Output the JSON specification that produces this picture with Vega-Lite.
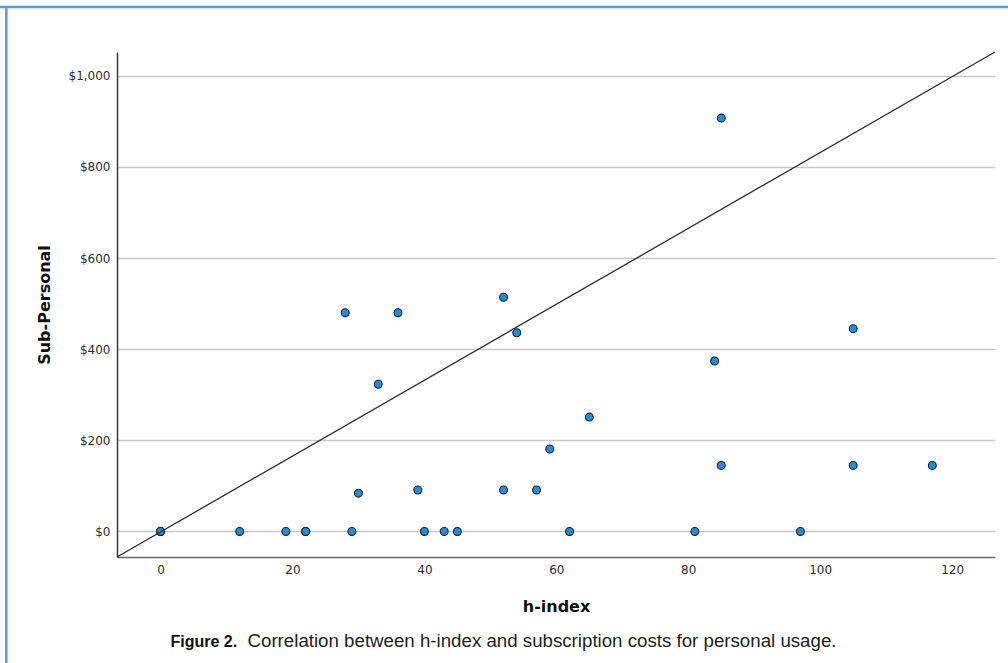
{
  "$schema": "https://vega.github.io/schema/vega-lite/v6.json",
  "width": 878,
  "height": 505,
  "autosize": "none",
  "padding": {"left": 117, "top": 52, "right": 13, "bottom": 106},
  "background": "#ffffff",
  "config": {"view": {"stroke": null}},
  "datasets": {
    "points": [
      {"h": 0, "cost": 0}, {"h": 0, "cost": 0}, {"h": 0, "cost": 0},
      {"h": 12, "cost": 0}, {"h": 19, "cost": 0}, {"h": 22, "cost": 0}, {"h": 22, "cost": 0},
      {"h": 29, "cost": 0}, {"h": 40, "cost": 0}, {"h": 43, "cost": 0}, {"h": 45, "cost": 0},
      {"h": 62, "cost": 0}, {"h": 81, "cost": 0}, {"h": 97, "cost": 0},
      {"h": 28, "cost": 480}, {"h": 36, "cost": 480}, {"h": 33, "cost": 323},
      {"h": 30, "cost": 84}, {"h": 39, "cost": 91}, {"h": 52, "cost": 514},
      {"h": 54, "cost": 436}, {"h": 52, "cost": 91}, {"h": 57, "cost": 91},
      {"h": 59, "cost": 181}, {"h": 65, "cost": 251}, {"h": 84, "cost": 374},
      {"h": 85, "cost": 907}, {"h": 85, "cost": 145}, {"h": 105, "cost": 445},
      {"h": 105, "cost": 145}, {"h": 117, "cost": 145}
    ],
    "fit": [{"h": -6.6, "cost": -56}, {"h": 126.5, "cost": 1052}]
  },
  "resolve": {"axis": {"x": "independent"}},
  "layer": [
    {
      "data": {"name": "points"},
      "mark": {"type": "circle", "fill": "#1a8fe3", "stroke": "#1e1e1e", "strokeWidth": 1.1, "size": 62, "opacity": 1},
      "encoding": {
        "x": {
          "field": "h", "type": "quantitative",
          "scale": {"domain": [-6.6, 126.5], "nice": false, "zero": false},
          "axis": {
            "values": [0, 20, 40, 60, 80, 100, 120], "title": "h-index", "grid": false,
            "ticks": false, "tickSize": 0, "domainColor": "#666666", "domainWidth": 1.5,
            "labelFont": "DejaVu Sans", "labelFontSize": 12, "labelColor": "#2e2e2e", "labelPadding": 7,
            "labelFlush": false, "labelOverlap": false,
            "titleFont": "DejaVu Sans", "titleFontSize": 16, "titleFontWeight": "bold", "titleColor": "#111111",
            "titleX": 439, "titleY": 54.7, "titleAlign": "center", "titleBaseline": "alphabetic"
          }
        },
        "y": {
          "field": "cost", "type": "quantitative",
          "scale": {"domain": [-56, 1052], "nice": false, "zero": false},
          "axis": {
            "values": [0, 200, 400, 600, 800, 1000], "format": "$,.0f", "title": "Sub-Personal",
            "grid": true, "gridColor": "#c8c8c8", "gridWidth": 1.3,
            "ticks": false, "tickSize": 0, "domainColor": "#3a3a3a", "domainWidth": 1.5,
            "labelFont": "DejaVu Sans", "labelFontSize": 12, "labelColor": "#2e2e2e", "labelPadding": 7,
            "labelFlush": false, "labelOverlap": false,
            "titleFont": "DejaVu Sans", "titleFontSize": 16, "titleFontWeight": "bold", "titleColor": "#111111",
            "titleX": -68, "titleY": 252.5, "titleAngle": -90, "titleAlign": "center", "titleBaseline": "alphabetic"
          }
        }
      }
    },
    {
      "data": {"name": "fit"},
      "mark": {"type": "line", "color": "#2b2b2b", "strokeWidth": 1.3},
      "encoding": {
        "x": {
          "field": "h", "type": "quantitative",
          "axis": {
            "orient": "bottom", "title": "Correlation between h-index and subscription costs for personal usage.",
            "labels": false, "ticks": false, "domain": false, "grid": false,
            "titleFont": "Liberation Sans", "titleFontSize": 18.7, "titleFontWeight": "normal", "titleColor": "#222222",
            "titleX": 130, "titleY": 89.7, "titleAlign": "left", "titleBaseline": "alphabetic"
          }
        },
        "y": {"field": "cost", "type": "quantitative"}
      }
    },
    {
      "data": {"values": [{}]},
      "mark": {"type": "rule", "color": "#5b9bd5", "strokeWidth": 2.5, "clip": false},
      "encoding": {
        "x": {
          "datum": -23.38, "type": "quantitative",
          "axis": {
            "orient": "bottom", "title": "Figure 2.",
            "labels": false, "ticks": false, "domain": false, "grid": false,
            "titleFont": "Liberation Sans", "titleFontSize": 16,
            "titleFontWeight": "bold", "titleColor": "#111111",
            "titleX": 53, "titleY": 89.7, "titleAlign": "left", "titleBaseline": "alphabetic"
          }
        },
        "y": {"datum": 1152.9, "type": "quantitative"},
        "y2": {"datum": -300}
      }
    },
    {
      "data": {"values": [{}]},
      "mark": {"type": "rule", "color": "#5b9bd5", "strokeWidth": 2.5, "clip": false},
      "encoding": {
        "y": {"datum": 1150.7, "type": "quantitative"},
        "x": {"datum": -24.5, "type": "quantitative", "axis": null},
        "x2": {"datum": 135}
      }
    }
  ]
}
